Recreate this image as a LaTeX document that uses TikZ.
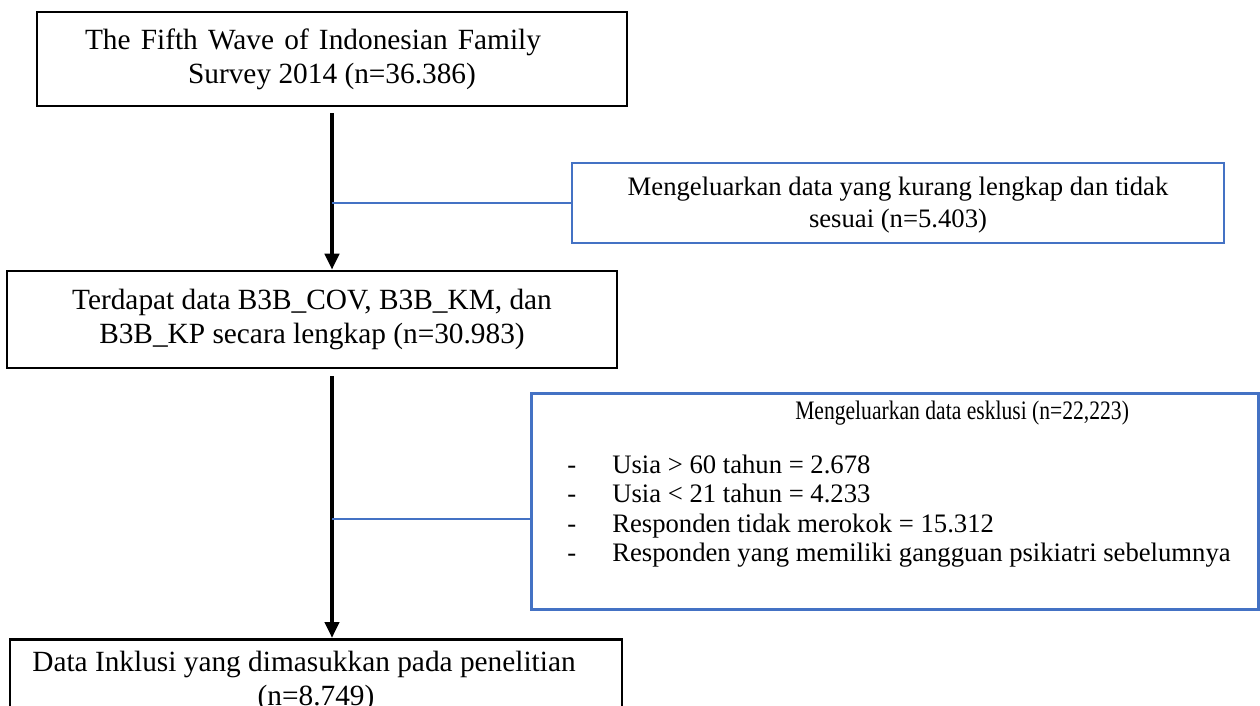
\documentclass[tikz,border=0pt]{standalone}
\usepackage{fontspec}
\usepackage{graphicx}
\setmainfont{Liberation Serif}
\usetikzlibrary{arrows.meta,calc}
\definecolor{wordblue}{HTML}{4472C4}
\begin{document}
\begin{tikzpicture}[x=0.75pt,y=-0.75pt,
  blackbox/.style={draw=black, line width=1.9pt, inner sep=0pt, align=center, font=\fontsize{22}{25.5}\selectfont},
  bluebox/.style={draw=wordblue, line width=2.2pt, inner sep=0pt, align=center, font=\fontsize{20}{24}\selectfont},
  listtext/.style={inner sep=0pt, align=left, font=\fontsize{20}{22}\selectfont},
  flow/.style={draw=black, line width=3pt, -{Triangle[width=10.5pt,length=12pt]}},
  branch/.style={draw=wordblue, line width=1.1pt}]
\path[use as bounding box] (0,0) rectangle (1260,706);
\clip (0,0) rectangle (1260,706);

\node[blackbox, minimum width=442.5pt, minimum height=70.5pt] (survey) at (332,59)
  {\makebox[342pt][s]{The Fifth Wave of Indonesian Family}\hspace*{28.5pt}\\Survey 2014 (n=36.386)};
\node[bluebox, minimum width=489pt, minimum height=60pt] (excl1) at (898,203)
  {\rule{0pt}{17pt}Mengeluarkan data yang kurang lengkap dan tidak\\sesuai (n=5.403)};
\node[blackbox, minimum width=457.5pt, minimum height=72.75pt] (complete) at (312,319.5)
  {Terdapat data B3B\_COV, B3B\_KM, dan\\B3B\_KP secara lengkap (n=30.983)};
\node[bluebox, minimum width=545.25pt, minimum height=162pt, anchor=north west] (excl2) at (530,392) {};
\node[listtext, anchor=north west] (excl2text) at (567,401)
  {\hspace*{33.75pt}\makebox[474.75pt][c]{\hspace*{50pt}\scalebox{0.81}[1]{Mengeluarkan data esklusi (n=22,223)}}\\[18.4pt]
   \makebox[33.75pt][l]{-}Usia > 60 tahun = 2.678\\
   \makebox[33.75pt][l]{-}Usia < 21 tahun = 4.233\\
   \makebox[33.75pt][l]{-}Responden tidak merokok = 15.312\\
   \makebox[33.75pt][l]{-}Responden yang memiliki gangguan psikiatri sebelumnya};
\node[blackbox, minimum width=459pt, minimum height=63pt, anchor=north] (incl) at (316,638)
  {Data Inklusi yang dimasukkan pada penelitian\hspace*{18pt}\\(n=8.749)};

\draw[flow] ($(survey.south)+(0,6)$) -- (survey.south |- complete.north);
\draw[flow] ($(survey.south |- complete.south)+(0,7)$) -- (survey.south |- incl.north);
\draw[branch] (survey.south |- excl1.west) -- (excl1.west);
\coordinate (b2) at ($(excl2.north west)+(0,127)$);
\draw[branch] (survey.south |- b2) -- (b2);
\end{tikzpicture}
\end{document}
